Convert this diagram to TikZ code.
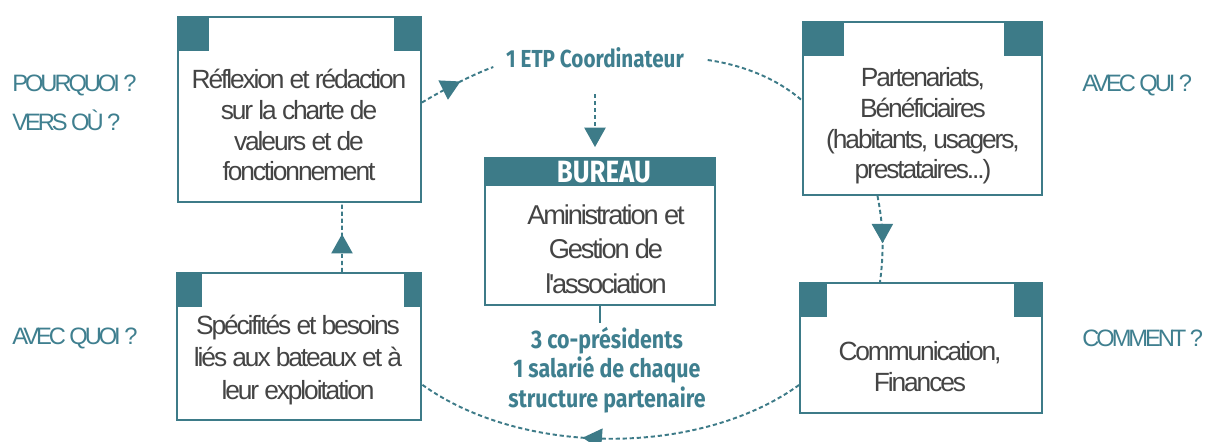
\documentclass[tikz,border=0pt]{standalone}
\usepackage{fontspec}
\setmainfont{Liberation Sans}
\newfontfamily\graytxt[LetterSpace=-8]{Liberation Sans}
\newfontfamily\sidetxt[LetterSpace=-13]{Liberation Sans}
\newfontfamily\bluebold[FakeStretch=0.84]{Fira Sans}
\usetikzlibrary{arrows.meta,calc,fit,decorations.markings}
\definecolor{teal1}{HTML}{3D7B88}
\definecolor{tealtxt}{HTML}{3F7F8F}
\definecolor{grayt}{HTML}{444444}
\tikzset{
  boxnode/.style={draw=teal1,line width=1.1pt,inner sep=0pt,fill=white},
  boxtext/.style={text=grayt,align=center,inner sep=0pt,font=\graytxt\fontsize{15}{17.6}\selectfont},
  sidelabel/.style={text=tealtxt,anchor=west,inner sep=0pt,font=\sidetxt\fontsize{13.5}{14}\selectfont},
  bluelabel/.style={text=tealtxt,align=center,inner sep=2pt,font=\bluebold\bfseries\fontsize{14}{16.7}\selectfont},
  flow/.style={draw=teal1,line width=1.1pt,dash pattern=on 2.4pt off 1.6pt},
  midarrow/.style={postaction={decorate},decoration={markings,mark=at position #1 with {\arrow[teal1]{Triangle[length=11pt,width=12pt]}}}},
}
\begin{document}
\begin{tikzpicture}[x=0.02cm,y=-0.02cm]
\useasboundingbox[fill=white] (0,0) rectangle (1205,441);

% boxes
\node[boxnode,fit={(178,17) (421,202)}] (tl) {};
\fill[teal1] (tl.north west) rectangle ++(32,35);
\fill[teal1] (tl.north east) rectangle ++(-28,35);
\node[boxtext] (tlt) at (299,125) {Réflexion et rédaction\\sur la charte de\\valeurs et de\\fonctionnement};

\node[boxnode,fit={(803,22) (1042,195)}] (tr) {};
\fill[teal1] (tr.north west) rectangle ++(42,35);
\fill[teal1] (tr.north east) rectangle ++(-39,35);
\node[boxtext,font=\graytxt\fontsize{15}{17.4}\selectfont] (trt) at (923,126) {Partenariats,\\Bénéficiaires\\(habitants, usagers,\\prestataires...)};

\node[boxnode,fit={(177,273) (421,420)}] (bl) {};
\fill[teal1] (bl.north west) rectangle ++(26,35);
\fill[teal1] (bl.north east) rectangle ++(-18,35);
\node[boxtext,font=\graytxt\fontsize{15}{18.7}\selectfont] (blt) at (298,360) {Spécifités et besoins\\liés aux bateaux et à\\leur exploitation};

\node[boxnode,fit={(800,283) (1042,413)}] (br) {};
\fill[teal1] (br.north west) rectangle ++(28,35);
\fill[teal1] (br.north east) rectangle ++(-29,35);
\node[boxtext] (brt) at (920,367) {Communication,\\Finances};

% bureau
\node[boxnode,fit={(485,158) (715,305)}] (bur) {};
\fill[teal1] (bur.north west) rectangle ($(bur.north east)+(0,29)$);
\node[text=white,inner sep=0pt,font=\bluebold\bfseries\fontsize{17.5}{18}\selectfont] (burt) at (604,172) {BUREAU};
\node[boxtext,font=\graytxt\fontsize{15.5}{19.5}\selectfont] (burx) at (606,249) {Aministration et\\Gestion de\\l'association};

% labels
\node[bluelabel] (etp) at (595,58) {1 ETP Coordinateur};
\node[bluelabel,font=\bluebold\bfseries\fontsize{14.5}{16.7}\selectfont,inner sep=0pt] (pres) at (607,370) {3 co-présidents\\1 salarié de chaque\\structure partenaire};

\node[sidelabel] (pq) at (12,85) {POURQUOI ?};
\node[sidelabel] (vo) at (12,120) {VERS OÙ ?};
\node[sidelabel] (aquoi) at (12,338) {AVEC QUOI ?};
\node[sidelabel] (aqui) at (1082,85) {AVEC QUI ?};
\node[sidelabel] (comm) at (1082,338) {COMMENT ?};

% connectors
\draw[flow,-{Triangle[length=11pt,width=12pt]}] ($(etp.south)+(0,22)$) -- ($(bur.north)+(-5,-10)$);
\draw[draw=teal1,line width=1.1pt] (bur.south) -- ($(pres.north)+(-7,-4)$);

\path[flow,midarrow=0.55] ($(tl.east)+(0,-7)$) .. controls +(20,-12) and +(-22,8) .. ($(etp.west)+(-9,9)$);
\path[flow] ($(etp.east)+(20,2)$) .. controls +(35,5) and +(-25,-22) .. ($(tr.west)+(0,-8)$);
\path[flow,midarrow=0.55] ($(tr.south)+(-45,0)$) .. controls +(6,30) and +(4,-30) .. ($(br.north)+(-41,0)$);
\path[flow,midarrow=0.57] ($(br.west)+(0,37)$) .. controls +(-100,72) and +(100,72) .. ($(bl.east)+(0,38)$);
\path[flow,midarrow=0.55] ($(bl.north)+(43,0)$) -- ($(tl.south)+(42.5,0)$);
\end{tikzpicture}
\end{document}
